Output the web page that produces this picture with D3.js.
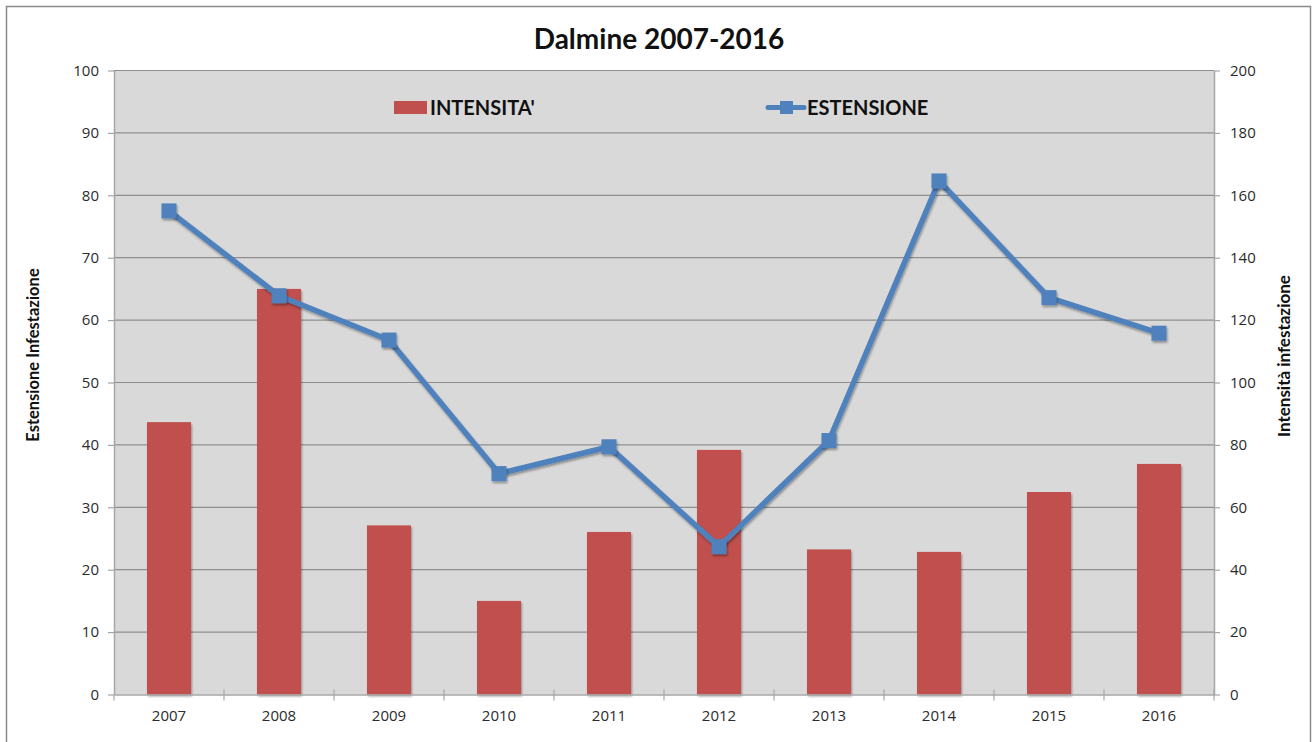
<!DOCTYPE html>
<html>
<head>
<meta charset="utf-8">
<script src="https://cdn.jsdelivr.net/npm/d3@7.9.0/dist/d3.min.js"></script>
<style>
  body { margin: 0; background: #fff; }
  svg { display: block; font-family: Lato, "Open Sans", sans-serif; }
</style>
</head>
<body>
<svg id="chart" width="1314" height="742"></svg>
<script>
// chart values
const years = ['2007', '2008', '2009', '2010', '2011', '2012', '2013', '2014', '2015', '2016'];
const intensita = [87.3, 130, 54.2, 30, 52.1, 78.4, 46.5, 45.7, 64.9, 73.9];   // bars, right axis
const estensione = [77.5, 63.9, 56.8, 35.4, 39.7, 23.7, 40.7, 82.3, 63.6, 57.9]; // line, left axis
const leftTicks = [0, 10, 20, 30, 40, 50, 60, 70, 80, 90, 100];
const rightTicks = [0, 20, 40, 60, 80, 100, 120, 140, 160, 180, 200];

const svg = d3.select('#chart');

const plot = { left: 114, top: 70.5, right: 1214, bottom: 694.5 };

// outer border
svg.append('rect')
  .attr('x', 6.5).attr('y', 6.5)
  .attr('width', 1304).attr('height', 760)
  .attr('fill', 'none').attr('stroke', '#8c8c8c').attr('stroke-width', 1.5);

const defs = svg.append('defs');
const shadow = defs.append('filter').attr('id', 'shadow')
  .attr('x', '-50%').attr('y', '-50%').attr('width', '200%').attr('height', '200%');
shadow.append('feDropShadow')
  .attr('dx', 1).attr('dy', 2).attr('stdDeviation', 1.2)
  .attr('flood-color', '#000').attr('flood-opacity', 0.35);

const x = d3.scaleBand().domain(years).range([plot.left, plot.right]).paddingInner(0).paddingOuter(0);
const yLeft = d3.scaleLinear().domain([0, 100]).range([plot.bottom, plot.top]);
const yRight = d3.scaleLinear().domain([0, 200]).range([plot.bottom, plot.top]);

// plot background
svg.append('rect')
  .attr('x', plot.left).attr('y', plot.top)
  .attr('width', plot.right - plot.left).attr('height', plot.bottom - plot.top)
  .attr('fill', '#d9d9d9');

// gridlines
svg.append('g')
  .selectAll('line')
  .data(leftTicks.slice(1))
  .join('line')
  .attr('x1', plot.left).attr('x2', plot.right)
  .attr('y1', d => yLeft(d)).attr('y2', d => yLeft(d))
  .attr('stroke', '#8f8f8f').attr('stroke-width', 1.2);

// bars
const barW = 44;
svg.append('g')
  .selectAll('rect')
  .data(years)
  .join('rect')
  .attr('x', d => x(d) + x.bandwidth() / 2 - barW / 2)
  .attr('y', (d, i) => yRight(intensita[i]))
  .attr('width', barW)
  .attr('height', (d, i) => plot.bottom - yRight(intensita[i]))
  .attr('fill', '#c0504d')
  .attr('filter', 'url(#shadow)');

// left axis
const axisLeft = svg.append('g')
  .attr('transform', `translate(${plot.left},0)`)
  .call(d3.axisLeft(yLeft).tickValues(leftTicks).tickSize(6).tickPadding(9).tickSizeOuter(0));

// right axis
const axisRight = svg.append('g')
  .attr('transform', `translate(${plot.right},0)`)
  .call(d3.axisRight(yRight).tickValues(rightTicks).tickSize(6).tickPadding(10).tickSizeOuter(0));

// bottom axis
const axisBottom = svg.append('g')
  .attr('transform', `translate(0,${plot.bottom})`)
  .call(d3.axisBottom(x).tickSize(0).tickPadding(16));

[axisLeft, axisRight, axisBottom].forEach(g => {
  g.select('.domain').attr('stroke', '#a6a6a6').attr('stroke-width', 1.5);
  g.selectAll('.tick line').attr('stroke', '#a6a6a6').attr('stroke-width', 1.2);
  g.selectAll('.tick text').attr('fill', '#2b2b2b').style('font-size', '15px')
    .style('font-family', '"Open Sans", Lato, sans-serif');
});

// category boundary ticks on the x axis
svg.append('g')
  .selectAll('line')
  .data(d3.range(years.length + 1))
  .join('line')
  .attr('x1', i => plot.left + i * x.bandwidth())
  .attr('x2', i => plot.left + i * x.bandwidth())
  .attr('y1', i => (i === 0 ? plot.bottom : plot.bottom - 5))
  .attr('y2', plot.bottom + 6)
  .attr('stroke', '#a6a6a6').attr('stroke-width', 1.2);

// line
const line = d3.line()
  .x((d, i) => x(years[i]) + x.bandwidth() / 2)
  .y(d => yLeft(d));

svg.append('path')
  .datum(estensione)
  .attr('d', line)
  .attr('fill', 'none')
  .attr('stroke', '#4f81bd')
  .attr('stroke-width', 5.5)
  .attr('stroke-linejoin', 'round')
  .attr('filter', 'url(#shadow)');

const mk = 15;
svg.append('g')
  .selectAll('rect')
  .data(estensione)
  .join('rect')
  .attr('x', (d, i) => x(years[i]) + x.bandwidth() / 2 - mk / 2)
  .attr('y', d => yLeft(d) - mk / 2)
  .attr('width', mk).attr('height', mk)
  .attr('fill', '#4f81bd')
  .attr('filter', 'url(#shadow)');

// title
svg.append('text')
  .attr('x', 659).attr('y', 49)
  .attr('text-anchor', 'middle')
  .style('font-size', '28px').style('font-weight', 'bold')
  .attr('fill', '#111')
  .text('Dalmine 2007-2016');

// axis titles
svg.append('text')
  .attr('transform', 'translate(39,355) rotate(-90)')
  .attr('text-anchor', 'middle')
  .style('font-size', '16.5px').style('font-weight', 'bold')
  .attr('fill', '#111')
  .text('Estensione Infestazione');

svg.append('text')
  .attr('transform', 'translate(1290,356) rotate(-90)')
  .attr('text-anchor', 'middle')
  .style('font-size', '17px').style('font-weight', 'bold')
  .attr('fill', '#111')
  .text('Intensità infestazione');

// legend
const legend = svg.append('g');
legend.append('rect')
  .attr('x', 394).attr('y', 101).attr('width', 33).attr('height', 13)
  .attr('fill', '#c0504d');
legend.append('text')
  .attr('x', 430).attr('y', 115)
  .style('font-size', '20px').style('font-weight', 'bold')
  .attr('fill', '#111')
  .text("INTENSITA'");

legend.append('line')
  .attr('x1', 768).attr('x2', 804).attr('y1', 107.5).attr('y2', 107.5)
  .attr('stroke', '#4f81bd').attr('stroke-width', 5).attr('stroke-linecap', 'round');
legend.append('rect')
  .attr('x', 780).attr('y', 101).attr('width', 13).attr('height', 13)
  .attr('fill', '#4f81bd');
legend.append('text')
  .attr('x', 807).attr('y', 115)
  .style('font-size', '20px').style('font-weight', 'bold')
  .attr('fill', '#111')
  .text('ESTENSIONE');
</script>
</body>
</html>
